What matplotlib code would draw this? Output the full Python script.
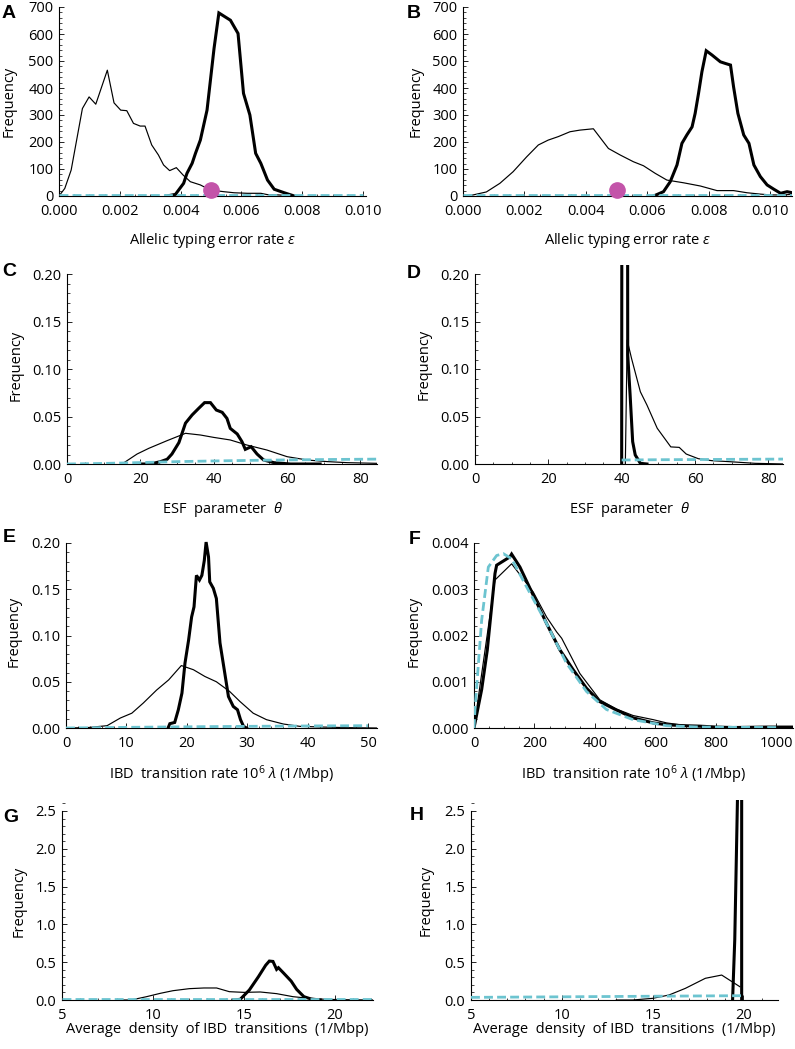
import matplotlib
matplotlib.use('Agg')
import matplotlib.pyplot as plt
from matplotlib.ticker import MultipleLocator, FormatStrFormatter

plt.rcParams['font.family'] = ['Open Sans', 'DejaVu Sans']
plt.rcParams['mathtext.fontset'] = 'custom'
plt.rcParams['mathtext.rm'] = 'Open Sans'
plt.rcParams['mathtext.it'] = 'Open Sans:italic'

# ---------------- data ----------------
# Panel A: allelic typing error rate
A_thin_x = [0, 0.00019, 0.0004, 0.00077, 0.00099, 0.00121, 0.00159, 0.00181, 0.00203, 0.00223,
            0.00245, 0.00267, 0.00283, 0.00305, 0.00327, 0.00344, 0.00364, 0.00386, 0.00408,
            0.00432, 0.00465, 0.00498, 0.00542, 0.00576, 0.0062, 0.00664, 0.00686, 0.0072, 0.0077, 0.0080]
A_thin_y = [0, 28, 96, 324, 367, 340, 466, 345, 318, 316, 269, 259, 259, 189, 152, 115, 94, 105, 78,
            53, 41, 22, 16, 12, 10, 10, 5, 4, 1, 0]
A_thick_x = [0.00355, 0.00383, 0.0041, 0.00421, 0.00438, 0.00449, 0.00465, 0.00487, 0.0051, 0.00526,
             0.00564, 0.00589, 0.00607, 0.00628, 0.00647, 0.00664, 0.00686, 0.00708, 0.00741, 0.00774]
A_thick_y = [0, 6, 47, 84, 121, 158, 207, 318, 546, 678, 651, 602, 380, 300, 158, 121, 59, 25, 12, 0]
A_prior_x = [0, 0.010]
A_prior_y = [2, 2]

# Panel B
B_thin_x = [0, 0.00033, 0.00076, 0.0012, 0.00163, 0.00207, 0.00245, 0.00277, 0.0031, 0.00348, 0.0038,
            0.00424, 0.00473, 0.00511, 0.00554, 0.00587, 0.00625, 0.00663, 0.00717, 0.00772, 0.00826,
            0.0088, 0.00924, 0.00967, 0.0100, 0.0104, 0.0107]
B_thin_y = [0, 4, 15, 47, 90, 145, 189, 207, 220, 238, 244, 249, 176, 152, 127, 112, 84, 59, 49, 37, 20,
            20, 12, 7, 4, 4, 6]
B_thick_x = [0.0062, 0.00652, 0.00674, 0.00696, 0.00712, 0.00728, 0.00745, 0.00755, 0.00766, 0.00777,
             0.00791, 0.0081, 0.00837, 0.00853, 0.0087, 0.0088, 0.00894, 0.00913, 0.0093, 0.00946,
             0.00967, 0.00989, 0.01011, 0.01033, 0.01054, 0.01071]
B_thick_y = [0, 16, 53, 115, 195, 226, 256, 306, 380, 460, 538, 522, 497, 491, 485, 404, 306, 226, 195,
             115, 72, 41, 25, 10, 16, 12]
B_prior_x = [0, 0.0107]
B_prior_y = [2, 2]

true_eps = [0.005]
true_eps_y = [24]

# Panel C: ESF parameter theta
C_thin_x = [15, 19.1, 22.3, 27.3, 32.3, 36.4, 40, 44.5, 49, 54.5, 60, 65.5, 71, 76.4, 84.5]
C_thin_y = [0.0, 0.0105, 0.0165, 0.0246, 0.0323, 0.0305, 0.028, 0.0253, 0.02, 0.0147, 0.0077, 0.0042,
            0.0025, 0.0014, 0.0007]
C_thick_x = [19.5, 22.7, 25.5, 27.3, 28.6, 30.5, 32.3, 34.1, 35.9, 37.5, 39.1, 40.7, 42.3, 43.6, 44.5,
             46.4, 47.7, 48.6, 50.2, 51.8, 53.6, 56.4, 60.9, 69]
C_thick_y = [0, 0, 0.0025, 0.005, 0.0105, 0.0225, 0.043, 0.0516, 0.0586, 0.0646, 0.0646, 0.0568, 0.0544,
             0.048, 0.0375, 0.0316, 0.0235, 0.0154, 0.0182, 0.0105, 0.0042, 0.0014, 0, 0]
C_prior_x = [0, 10, 20, 30, 40, 50, 60, 70, 80, 86]
C_prior_y = [0, 0.0006, 0.0015, 0.0025, 0.0032, 0.0038, 0.0043, 0.0047, 0.005, 0.0052]

# Panel D
D_thin_x = [41.0, 41.5, 42.7, 45.1, 46.9, 49.7, 53.4, 55.7, 57.6, 60.9, 64.6, 67.9, 72, 76.4, 84.6]
D_thin_y = [0, 0.1305, 0.111, 0.076, 0.062, 0.0376, 0.018, 0.0175, 0.0105, 0.0056, 0.0035, 0.0028,
            0.0018, 0.0007, 0]
D_thick_x = [40.0, 40.1, 40.9, 41.55, 41.65, 42.3, 43.0, 43.7, 45.1, 46.9]
D_thick_y = [0, 0.6, 0.9, 0.6, 0.115, 0.073, 0.0235, 0.0095, 0.0007, 0]
D_prior_x = [40, 50, 60, 70, 80, 85]
D_prior_y = [0.0042, 0.0045, 0.0047, 0.0049, 0.0051, 0.0052]

# Panel E: IBD transition rate
E_thin_x = [0, 3.5, 6.8, 9, 10.9, 12.8, 15, 17, 19.1, 21.1, 23, 24.9, 27.1, 28.8, 31, 33.2, 36, 38.7,
            42, 46.4, 51.4]
E_thin_y = [0, 0.0004, 0.0025, 0.0108, 0.016, 0.027, 0.041, 0.052, 0.0675, 0.063, 0.0557, 0.05, 0.0395,
            0.0287, 0.016, 0.009, 0.0043, 0.0018, 0.0011, 0.0004, 0]
E_thick_x = [16.9, 17.2, 18, 18.6, 19.2, 19.7, 20.3, 20.8, 21.2, 21.6, 22.1, 22.5, 22.9, 23.2, 23.6,
             23.8, 24.4, 24.9, 25.5, 26.3, 26.9, 27.7, 28.4, 28.9, 29.4, 29.9]
E_thick_y = [0, 0.0047, 0.006, 0.0197, 0.0377, 0.07, 0.095, 0.12, 0.131, 0.165, 0.16, 0.165, 0.181,
             0.201, 0.185, 0.158, 0.151, 0.14, 0.092, 0.059, 0.034, 0.0233, 0.0197, 0.009, 0.0018, 0]
E_prior_x = [0, 10, 20, 30, 40, 50]
E_prior_y = [0, 0.0007, 0.0013, 0.0018, 0.0022, 0.0025]

# Panel F
F_thin_x = [0, 69.4, 124.4, 196, 240, 273, 290, 350, 416, 471, 526, 593, 637, 692, 747, 857, 1055]
F_thin_y = [0, 0.0032, 0.00355, 0.00294, 0.0024, 0.00208, 0.00194, 0.00118, 0.00061, 0.00041, 0.00027,
            0.00018, 0.00011, 0.00006, 0.00003, 0.00001, 0]
F_thick_x = [0, 25.3, 44, 69.4, 74.9, 118.9, 124.4, 151.9, 196, 240, 284, 328, 372, 416, 471, 526, 593,
             637, 692, 747, 802, 857, 967, 1055]
F_thick_y = [0, 0.00083, 0.00169, 0.00334, 0.00352, 0.0037, 0.00376, 0.00348, 0.00287, 0.00226, 0.00169,
             0.00126, 0.00086, 0.00057, 0.00039, 0.00022, 0.00011, 0.00007, 0.00005, 0.00004, 0.00002,
             0.00001, 0.00002, 0.00002]
F_prior_x = [0, 3.3, 25.3, 47.4, 74.9, 96.9, 124.4, 174, 240, 306, 372, 438, 526, 637, 747, 1000]
F_prior_y = [0, 0.0004, 0.00233, 0.00348, 0.00373, 0.00377, 0.00366, 0.00305, 0.00226, 0.0014, 0.00079,
             0.0004, 0.00018, 0.00005, 0.00002, 0.00001]

# Panel G: average density of IBD transitions
G_thin_x = [8.0, 8.8, 9.65, 10.4, 11.1, 12.0, 12.8, 13.5, 14.2, 15, 15.9, 16.8, 17.7, 18.6, 19.5, 20.5, 22.1]
G_thin_y = [0, 0, 0.044, 0.088, 0.123, 0.15, 0.159, 0.159, 0.11, 0.101, 0.106, 0.084, 0.044, 0.022,
            0.009, 0.004, 0]
G_thick_x = [14.4, 14.8, 15.3, 15.8, 16.2, 16.4, 16.6, 16.8, 16.9, 17.2, 17.6, 17.9, 18.3, 18.7, 19.2]
G_thick_y = [0, 0.009, 0.132, 0.308, 0.46, 0.515, 0.51, 0.405, 0.427, 0.352, 0.25, 0.141, 0.044, 0.013, 0]
G_prior_x = [5, 22.1]
G_prior_y = [0.012, 0.012]

# Panel H
H_thin_x = [13, 13.9, 15, 15.9, 16.8, 17.9, 18.8, 19.8]
H_thin_y = [0, 0, 0.022, 0.066, 0.154, 0.287, 0.33, 0.176]
H_thick_x = [19.4, 19.52, 19.68, 19.8, 19.9, 19.9]
H_thick_y = [0, 0.8, 2.8, 4.0, 3.0, 0]
H_prior_x = [5, 10, 15, 19.95]
H_prior_y = [0.035, 0.042, 0.05, 0.057]

# ---------------- figure ----------------
W, H = 795, 1049
fig = plt.figure(figsize=(W / 100, H / 100), dpi=100)

THIN = 0.85
THICK = 2.2
CYAN = '#6CC4D0'
MAG = '#C354A9'
FS = 10.5


def make_ax(left, right, bottom, toptick, xlim, ytop, pad, xmaj, xmin_, ymaj, ymin_, xfmt, yfmt):
    hpx = bottom - toptick + pad
    ax = fig.add_axes([left / W, 1 - bottom / H, (right - left) / W, hpx / H])
    ax.set_xlim(*xlim)
    ax.set_ylim(0, ytop * hpx / (bottom - toptick))
    for s in ('top', 'right'):
        ax.spines[s].set_visible(False)
    ax.spines['left'].set_bounds(0, ytop)
    for s in ('left', 'bottom'):
        ax.spines[s].set_linewidth(0.8)
    ax.xaxis.set_major_locator(MultipleLocator(xmaj))
    ax.xaxis.set_minor_locator(MultipleLocator(xmin_))
    ax.yaxis.set_major_locator(MultipleLocator(ymaj))
    ax.yaxis.set_minor_locator(MultipleLocator(ymin_))
    ax.xaxis.set_major_formatter(FormatStrFormatter(xfmt))
    ax.yaxis.set_major_formatter(FormatStrFormatter(yfmt))
    ax.tick_params(which='major', direction='in', length=3.5, width=0.6, labelsize=FS)
    ax.tick_params(which='minor', direction='in', length=1.8, width=0.5)
    ax.tick_params(axis='x', which='major', pad=6)
    ax.tick_params(axis='y', which='major', pad=4)
    ax.set_yticks([t for t in ax.get_yticks() if -1e-12 <= t <= ytop * 1.0001])
    ax.set_xticks([t for t in ax.get_xticks() if xlim[0] - 1e-12 <= t <= xlim[1]])
    ax._hpx = hpx
    ax._wpx = right - left
    ax._left = left
    ax._bottom = bottom
    return ax


def labels(ax, xlabel, label_top, ylab_x, letter, lx, ly):
    ax.set_xlabel(xlabel, fontsize=FS)
    ax.xaxis.set_label_coords(0.5, -(label_top - ax._bottom) / ax._hpx)
    ax.set_ylabel('Frequency', fontsize=FS)
    ax.yaxis.label.set_va('center')
    ax.yaxis.set_label_coords((ylab_x - ax._left) / ax._wpx, 0.5)
    fig.text(lx / W, 1 - ly / H, letter, fontsize=14, fontweight='bold',
             family=['Liberation Sans', 'DejaVu Sans'], ha='center', va='center')


def draw(ax, thin, thick, prior):
    ax.plot(thin[0], thin[1], color='black', lw=THIN, zorder=3)
    ax.plot(thick[0], thick[1], color='black', lw=THICK, zorder=4, solid_joinstyle='miter')
    ax.plot(prior[0], prior[1], color=CYAN, lw=2.0, dashes=(3.2, 1.5), zorder=5)


eps_lab = r'Allelic typing error rate $\varepsilon$'
theta_lab = r'ESF  parameter  $\theta$'
lam_lab = r'IBD  transition rate 10$^{6}$ $\lambda$ (1/Mbp)'
dens_lab = 'Average  density  of IBD  transitions  (1/Mbp)'

# A
axA = make_ax(59, 366, 196, 7, (0, 0.0101), 700, 0, 0.002, 0.0005, 100, 20, '%.3f', '%d')
draw(axA, (A_thin_x, A_thin_y), (A_thick_x, A_thick_y), (A_prior_x, A_prior_y))
axA.plot(true_eps, true_eps_y, 'o', color=MAG, ms=11, zorder=6, clip_on=False)
labels(axA, eps_lab, 231, 9, 'A', 9, 13)

# B
axB = make_ax(463, 792, 196, 7, (0, 0.0107), 700, 0, 0.002, 0.0005, 100, 20, '%.3f', '%d')
draw(axB, (B_thin_x, B_thin_y), (B_thick_x, B_thick_y), (B_prior_x, B_prior_y))
axB.plot(true_eps, true_eps_y, 'o', color=MAG, ms=11, zorder=6, clip_on=False)
labels(axB, eps_lab, 231, 416, 'B', 414, 13)

# C
axC = make_ax(67, 377, 464, 274, (0, 84.5), 0.20, 8, 20, 5, 0.05, 0.01, '%d', '%.2f')
draw(axC, (C_thin_x, C_thin_y), (C_thick_x, C_thick_y), (C_prior_x, C_prior_y))
labels(axC, theta_lab, 500, 16, 'C', 9, 272)

# D
axD = make_ax(475, 783, 464, 274, (0, 84.0), 0.20, 9, 20, 5, 0.05, 0.01, '%d', '%.2f')
draw(axD, (D_thin_x, D_thin_y), (D_thick_x, D_thick_y), (D_prior_x, D_prior_y))
labels(axD, theta_lab, 500, 424, 'D', 414, 273)

# E
axE = make_ax(66, 377, 728, 543, (0, 51.5), 0.20, 8, 10, 2, 0.05, 0.01, '%d', '%.2f')
draw(axE, (E_thin_x, E_thin_y), (E_thick_x, E_thick_y), (E_prior_x, E_prior_y))
labels(axE, lam_lab, 763, 14, 'E', 9, 538)

# F
axF = make_ax(474, 793, 728, 543, (0, 1055), 0.004, 8, 200, 50, 0.001, 0.0002, '%d', '%.3f')
draw(axF, (F_thin_x, F_thin_y), (F_thick_x, F_thick_y), (F_prior_x, F_prior_y))
labels(axF, lam_lab, 763, 414, 'F', 415, 539)

# G
axG = make_ax(62, 373, 1000, 811, (5, 22.1), 2.5, 8, 5, 1, 0.5, 0.1, '%d', '%.1f')
draw(axG, (G_thin_x, G_thin_y), (G_thick_x, G_thick_y), (G_prior_x, G_prior_y))
labels(axG, dens_lab, 1022, 19, 'G', 11, 817)

# H
axH = make_ax(471, 778, 1000, 811, (5, 21.9), 2.5, 11, 5, 1, 0.5, 0.1, '%d', '%.1f')
draw(axH, (H_thin_x, H_thin_y), (H_thick_x, H_thick_y), (H_prior_x, H_prior_y))
labels(axH, dens_lab, 1022, 426, 'H', 417, 816)

fig.savefig('out.png', dpi=100)
